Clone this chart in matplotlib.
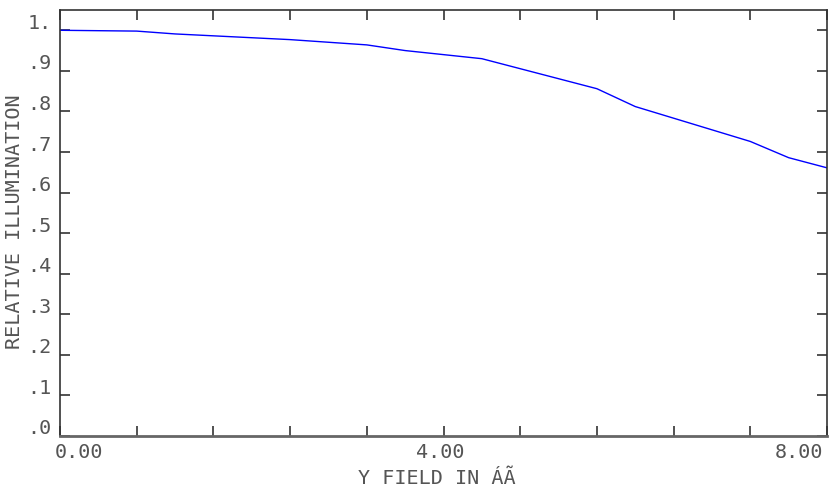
import matplotlib
matplotlib.use("Agg")
import matplotlib.pyplot as plt
import matplotlib.transforms as mtransforms
import numpy as np

field = [0.0, 0.8, 1.2, 2.4, 3.2, 3.6, 4.4, 5.6, 6.0, 7.2, 7.6, 8.0]
illum = [1.000, 0.998, 0.991, 0.977, 0.964, 0.950, 0.930, 0.856, 0.812, 0.726, 0.686, 0.661]

xticks = [0.0, 0.8, 1.6, 2.4, 3.2, 4.0, 4.8, 5.6, 6.4, 7.2, 8.0]
xticklabels = ["0.00", "", "", "", "", "4.00", "", "", "", "", "8.00"]
yticks = [0.0, 0.1, 0.2, 0.3, 0.4, 0.5, 0.6, 0.7, 0.8, 0.9, 1.0]
yticklabels = [".0", ".1", ".2", ".3", ".4", ".5", ".6", ".7", ".8", ".9", "1."]

W, H = 838, 492
fig = plt.figure(figsize=(W / 100, H / 100), dpi=100)
ax = fig.add_axes([60 / W, 1 - 436 / H, (827 - 60) / W, (436 - 10) / H])

ax.plot(field, illum, color="#0000ff", linewidth=1.0)
ax.set_xlim(0, 8.0)
ax.set_ylim(0, 1.05)

txtcol = "#555555"
mono = "DejaVu Sans Mono"
fs = 14.5
ax.set_xticks(xticks)
ax.set_xticklabels(xticklabels, family=mono, fontsize=fs, color=txtcol)
ax.set_yticks(yticks)
ax.set_yticklabels(yticklabels, family=mono, fontsize=fs, color=txtcol)
ax.tick_params(axis="both", direction="in", length=7, width=1.2, color="#333333",
               top=True, right=True)
ax.tick_params(axis="x", pad=5)
ax.tick_params(axis="y", pad=6)

offset = mtransforms.ScaledTranslation(0, 9 / 100, fig.dpi_scale_trans)
for lab in ax.get_yticklabels():
    lab.set_transform(lab.get_transform() + offset)

xl = ax.get_xticklabels()
xl[0].set_horizontalalignment("left")
xl[0].set_transform(xl[0].get_transform() + mtransforms.ScaledTranslation(-5 / 100, 0, fig.dpi_scale_trans))
xl[-1].set_horizontalalignment("right")
xl[-1].set_transform(xl[-1].get_transform() + mtransforms.ScaledTranslation(-4 / 100, 0, fig.dpi_scale_trans))
xl[5].set_transform(xl[5].get_transform() + mtransforms.ScaledTranslation(-3 / 100, 0, fig.dpi_scale_trans))

for s in ax.spines.values():
    s.set_color("#333333")
    s.set_linewidth(1.2)
ax.spines["bottom"].set_color("#666666")
ax.spines["bottom"].set_linewidth(2)

fig.text(437 / W, 1 - 478 / H, "Y FIELD IN ÁÃ", family=mono, fontsize=fs,
         color=txtcol, ha="center", va="center")
fig.text(15 / W, 1 - 222 / H, "RELATIVE ILLUMINATION", family=mono, fontsize=fs,
         color=txtcol, ha="center", va="center", rotation=90)

fig.savefig("out.png", dpi=100)
